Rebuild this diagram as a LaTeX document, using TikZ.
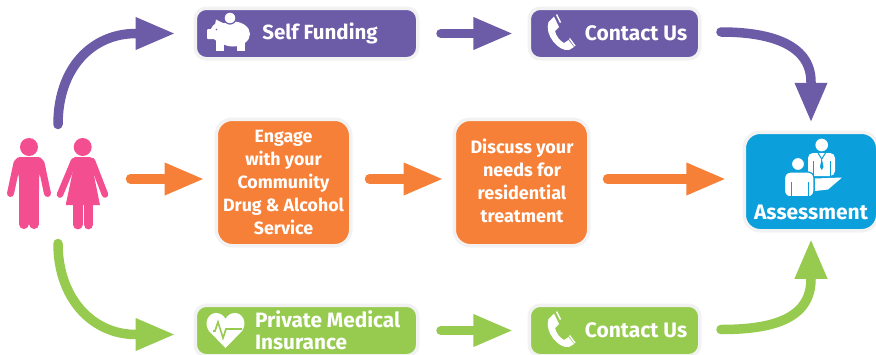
\documentclass[tikz,border=0pt]{standalone}
\usepackage{fontspec}
\setmainfont{Fira Sans}
\usetikzlibrary{arrows.meta}
\definecolor{cpurple}{HTML}{6C5BA7}
\definecolor{corange}{HTML}{F68038}
\definecolor{cgreen}{HTML}{96CB4F}
\definecolor{cpink}{HTML}{F34E8F}
\definecolor{cblue}{HTML}{0B9FDC}
\definecolor{chalo}{HTML}{F2F2F2}
\tikzset{
  flowbox/.style={draw=chalo,line width=3.5pt,rounded corners=#1,outer sep=0pt,inner sep=0pt,anchor=center},
  boxtext/.style 2 args={text=white,font=\bfseries\fontsize{#1}{#2}\selectfont,inner sep=0pt,outer sep=0pt},
  flow/.style={line width=9.5pt,line cap=round,color=#1,-{Triangle[length=40pt,width=30pt]}},
  limb/.style={line width=#1,line cap=round,cpink}
}
\newcommand{\phoneicon}{%
  \fill[white] (548.5,22) -- (554,16.5) -- (559,27) -- (555,31) .. controls (556,36) and (560,41) .. (564,43) -- (568.5,40) -- (574,47) -- (569,50) .. controls (559,52) and (544,35) .. (548.5,22) -- cycle;
  \draw[white,line width=1.4pt] (556.5,14.5) -- (560.5,22.5);
  \draw[white,line width=1.4pt] (569.5,38.5) -- (575,46);
}
\begin{document}
\begin{tikzpicture}[x=1pt,y=-1pt]
\useasboundingbox (0,0) rectangle (876,354);
% boxes
\node[flowbox=11pt,fill=cpurple,minimum width=222.5pt,minimum height=50.5pt] (self) at (306.5,33.5) {};
\node[flowbox=11pt,fill=cpurple,minimum width=170.5pt,minimum height=50.5pt] (contactp) at (614.5,33.5) {};
\node[flowbox=16pt,fill=corange,minimum width=134.5pt,minimum height=126.5pt] (engage) at (283.5,182.5) {};
\node[flowbox=16pt,fill=corange,minimum width=134.5pt,minimum height=126.5pt] (discuss) at (521.5,182.5) {};
\node[flowbox=16pt,fill=cblue,minimum width=133.5pt,minimum height=98.5pt] (assess) at (811,181.5) {};
\node[flowbox=11pt,fill=cgreen,minimum width=222.5pt,minimum height=50.5pt] (private) at (306.5,330.5) {};
\node[flowbox=11pt,fill=cgreen,minimum width=170.5pt,minimum height=50.5pt] (contactg) at (614.5,330.5) {};
% texts
\node[boxtext={20.5}{24}] (tself) at (320,33) {Self Funding};
\node[boxtext={21}{24}] (tcp) at (636,33) {Contact Us};
\node[boxtext={21}{24}] (tcg) at (636,330) {Contact Us};
\node[boxtext={17.8}{22.8},align=center] (tengage) at (283.5,182.5) {Engage\\with your\\Community\\Drug \& Alcohol\\Service};
\node[boxtext={18}{22.8},align=center] (tdiscuss) at (522,181) {Discuss your\\needs for\\residential\\treatment};
\node[boxtext={21}{24}] (tassess) at (811,212) {Assessment};
\node[boxtext={20.8}{22},align=left,anchor=west] (tprivate) at (255,330.5) {Private Medical\\Insurance};
% free ends
\coordinate (pplTop) at (58,124.5);
\coordinate (pplMid) at (130.5,179);
\coordinate (pplBot) at (58,243.5);
% connectors
\draw[flow=cpurple,shorten >=19.75pt] (pplTop) .. controls (58,68) and (92,33.5) .. (136,33.5) -- (self.west);
\draw[flow=cpurple,shorten <=23.25pt,shorten >=16pt] (self.east) -- (contactp.west);
\draw[flow=cpurple,shorten <=21.25pt,shorten >=9.5pt] (contactp.east) -- (721,32) .. controls (765,32) and (811,42) .. (811,82) -- (assess.north);
\draw[flow=corange,shorten >=11.75pt] (pplMid) -- (engage.west |- pplMid);
\draw[flow=corange,shorten <=18.75pt,shorten >=10.75pt] (engage.east |- pplMid) -- (discuss.west |- pplMid);
\draw[flow=corange,shorten <=18.75pt,shorten >=18pt] (discuss.east |- pplMid) -- (assess.west |- pplMid);
\draw[flow=cgreen,shorten >=19.75pt] (pplBot) .. controls (58,298) and (92,334.5) .. (136,334.5) -- (private.west |- 0,334.5);
\draw[flow=cgreen,shorten <=23.25pt,shorten >=16pt] (private.east) -- (contactg.west);
\draw[flow=cgreen,shorten <=21.25pt,shorten >=8pt] (contactg.east) -- (721,329.5) .. controls (770,329.5) and (811,320) .. (811,279) -- (assess.south);
% people
\fill[cpink] (29,147) circle (9);
\fill[cpink,rounded corners=3pt] (13.5,163) -- (17,157) -- (41,157) -- (44.5,163) -- (39,176) -- (39,194) -- (19,194) -- (19,176) -- cycle;
\draw[limb=7pt] (17,163) -- (10.5,193.5);
\draw[limb=7pt] (41,163) -- (47.5,193.5);
\draw[limb=10pt] (23.7,190) -- (23.7,224);
\draw[limb=10pt] (34.3,190) -- (34.3,224);
\fill[cpink] (82.7,147) circle (9);
\fill[cpink] (72.7,159) -- (75,157) -- (90,157) -- (93,159) -- (93.3,172) -- (100,205) -- (65.7,205) -- (72.7,172) -- cycle;
\draw[limb=6.5pt] (74,161) -- (60,194.5);
\draw[limb=6.5pt] (92,161) -- (105,194.5);
\draw[limb=9.8pt] (77.6,200) -- (77.6,224.5);
\draw[limb=9.8pt] (88.4,200) -- (88.4,224.5);
% piggy bank
\fill[white] (233,34) ellipse (17 and 12.5);
\fill[white] (220,32) circle (9.5);
\fill[white,rounded corners=1pt] (207,29) rectangle (214,39);
\fill[white] (215,25) -- (216,19.5) -- (225,24) -- cycle;
\fill[white] (216,40) rectangle (224,51);
\fill[white] (237,40) rectangle (245,51);
\fill[cpurple] (216.5,29.5) circle (0.9);
\draw[cpurple,line width=1pt] (209,40.5) -- (214,42.5);
\fill[white,draw=cpurple,line width=1.2pt] (230,18) circle (6);
% heart
\fill[white] (225.5,348) -- (209,331) .. controls (203,322) and (209,313) .. (216,313) .. controls (221,313) and (224,316) .. (225.5,319) .. controls (227,316) and (230,313) .. (235,313) .. controls (242,313) and (248,322) .. (242,331) -- cycle;
\draw[cgreen,line width=1.6pt] (213,331) -- (215,331) -- (218,322) -- (223,338) -- (226,329) -- (242,329);
% phones
\phoneicon
\begin{scope}[shift={(0,297)}]
\phoneicon
\end{scope}
% assessment icon
\fill[white] (821.7,145) circle (6.3);
\fill[white,rounded corners=5pt] (808,176) -- (808,153) -- (835,153) -- (835,176) -- cycle;
\draw[cblue,line width=1pt] (813,161) -- (813,176);
\draw[cblue,line width=1pt] (830.5,161) -- (830.5,176);
\draw[cblue,line width=1pt] (818,153) -- (821.7,159) -- (825.5,153);
\fill[cblue] (821.7,158) -- (823.5,167) -- (821.7,170) -- (820,167) -- cycle;
\fill[white] (815,178.5) -- (842,177.5) -- (828,189.5) -- (815,191) -- cycle;
\fill[white,draw=cblue,line width=1.2pt,rounded corners=6pt] (784.5,197) -- (784.5,172) -- (814,172) -- (814,197) -- cycle;
\fill[cblue] (784,196) rectangle (815,198);
\draw[cblue,line width=1pt] (791,182) -- (791,196);
\draw[cblue,line width=1pt] (808,182) -- (808,196);
\fill[white,draw=cblue,line width=1pt] (798,164) circle (6.5);
\end{tikzpicture}
\end{document}
